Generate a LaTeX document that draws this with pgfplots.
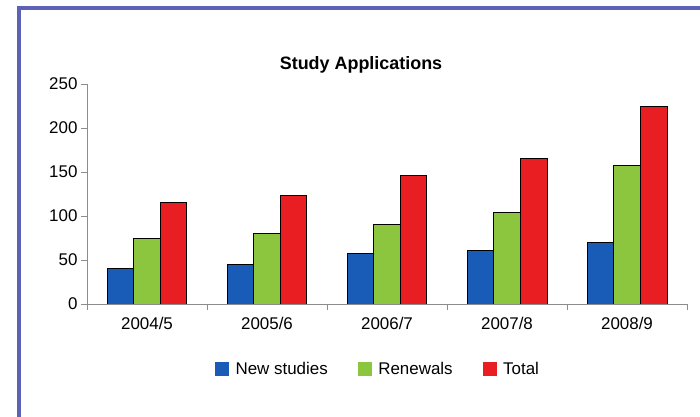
\documentclass[border=0pt]{standalone}
\usepackage{pgfplots}
\pgfplotsset{compat=1.18}
\usepackage{fontspec}
\setmainfont{Liberation Sans}
\definecolor{barblue}{RGB}{24,92,184}
\definecolor{bargreen}{RGB}{140,198,62}
\definecolor{barred}{RGB}{232,30,34}
\definecolor{framecol}{RGB}{92,98,182}
\definecolor{axgray}{RGB}{140,140,140}
\begin{document}
\begin{tikzpicture}
\clip (0bp,0bp) rectangle (700bp,417bp);
\fill[white] (0bp,0bp) rectangle (700bp,417bp);
\draw[framecol, line width=4bp] (19.3bp,-5bp) -- (19.3bp,408.7bp) -- (705bp,408.7bp);
\begin{axis}[
  at={(87bp,113bp)}, anchor=south west,
  scale only axis, width=600bp, height=220bp,
  xmin=-0.5, xmax=4.5, ymin=0, ymax=250,
  axis x line*=bottom, axis y line*=left,
  axis line style={axgray, line width=0.8bp, -},
  ytick={0,50,100,150,200,250},
  tick align=outside, major tick length=6bp,
  tick style={axgray, line width=0.8bp},
  xtick={-0.5,0.5,1.5,2.5,3.5,4.5}, xticklabels={},
  extra x ticks={0,1,2,3,4},
  extra x tick labels={2004/5,2005/6,2006/7,2007/8,2008/9},
  extra x tick style={major tick length=0pt, tick label style={yshift=-10bp}},
  tick label style={font=\fontsize{17}{20}\selectfont, text=black},
  /pgf/number format/assume math mode=true,
  ybar=0pt, bar width=0.2222,
  title={\bfseries Study Applications},
  title style={at={(0.4567,1.038)}, anchor=base, font=\fontsize{18}{21}\selectfont},
  legend columns=3,
  legend style={at={(0.485,-0.2977)}, anchor=center, draw=none, fill=none,
    font=\fontsize{17}{20}\selectfont,
    /tikz/every even column/.append style={column sep=28bp}},
  legend image code/.code={\path[#1,draw=none] (0bp,-7bp) rectangle (14bp,7bp); \path (18bp,0bp);},
]
\addplot[fill=barblue, draw=black, line width=1bp] coordinates {(0,40) (1,45) (2,57) (3,61) (4,70)};
\addplot[fill=bargreen, draw=black, line width=1bp] coordinates {(0,75) (1,80) (2,90) (3,104) (4,157)};
\addplot[fill=barred, draw=black, line width=1bp] coordinates {(0,115) (1,123) (2,146) (3,165) (4,225)};
\legend{New studies, Renewals, Total}
\end{axis}
\end{tikzpicture}
\end{document}
